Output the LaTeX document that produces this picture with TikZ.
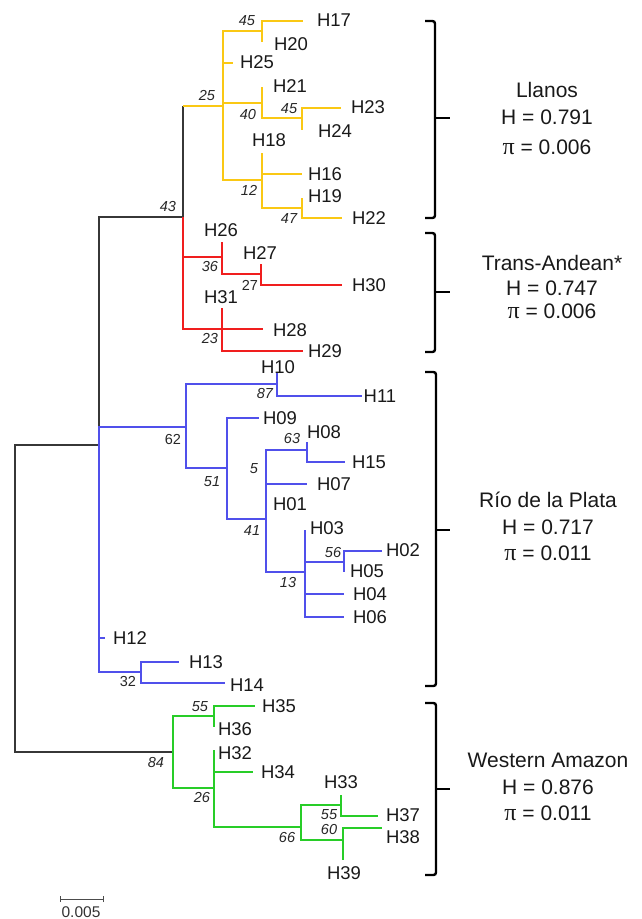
\documentclass[tikz,border=0pt]{standalone}
\usepackage{fontspec}
\setmainfont{Liberation Sans}
\newfontfamily\grk{Liberation Serif}
\definecolor{cYel}{RGB}{250,200,20}
\definecolor{cRed}{RGB}{240,30,30}
\definecolor{cBlu}{RGB}{80,80,235}
\definecolor{cGrn}{RGB}{40,205,40}
\definecolor{cBlk}{RGB}{55,55,55}
\newcommand{\mypi}{{\grk\fontsize{24}{24}\selectfont π}}
\begin{document}
\begin{tikzpicture}[x=1pt,y=-1pt,
  blk/.style={draw=cBlk,line width=1.3pt},
  yel/.style={draw=cYel,line width=1.1pt},
  rd/.style={draw=cRed,line width=1.1pt},
  blu/.style={draw=cBlu,line width=1.1pt},
  grn/.style={draw=cGrn,line width=1.1pt},
  lab/.style={font=\fontsize{18.5}{20}\selectfont,inner sep=0pt,text=black!90},
  bs/.style={font=\fontsize{14.5}{16}\selectfont\itshape,inner sep=0pt,text=black!85},
  bsu/.style={font=\fontsize{14.5}{16}\selectfont,inner sep=0pt,text=black!85},
  clade/.style={font=\fontsize{21}{24}\selectfont,inner sep=0pt,text=black!90},
  brk/.style={draw=black,line width=2.4pt,rounded corners=2.5pt}
]
\useasboundingbox (0,0) rectangle (641,919);

% ---------- coordinates ----------
\coordinate (R) at (15,600);
\coordinate (A) at (99,445);
\coordinate (N43) at (183,217);
% yellow
\coordinate (Y25) at (223,106);
\coordinate (Y45a) at (262,31);
\coordinate (tH17) at (303,21);
\coordinate (tH20) at (262,42);
\coordinate (tH25) at (233,63);
\coordinate (Y40) at (262,103);
\coordinate (tH21) at (262,87);
\coordinate (Y45b) at (302,118);
\coordinate (tH23) at (341,108);
\coordinate (tH24) at (302,130);
\coordinate (Y12) at (262,180);
\coordinate (tH18) at (262,153);
\coordinate (tH16) at (302,174);
\coordinate (Y47) at (302,208);
\coordinate (tH19) at (302,198);
\coordinate (tH22) at (342,218);
% red
\coordinate (R36) at (222,257);
\coordinate (tH26) at (222,242);
\coordinate (R27) at (261,274);
\coordinate (tH27) at (261,264);
\coordinate (tH30) at (342,285);
\coordinate (R23) at (222,329);
\coordinate (tH31) at (222,308);
\coordinate (tH28) at (263,329);
\coordinate (tH29) at (303,351);
% blue
\coordinate (B62) at (186,427);
\coordinate (B87) at (277,384);
\coordinate (tH10) at (277,373);
\coordinate (tH11) at (362,396);
\coordinate (B51) at (227,468);
\coordinate (tH09) at (259,418);
\coordinate (B41) at (266,519);
\coordinate (B63) at (307,450);
\coordinate (tH08) at (307,442);
\coordinate (tH15) at (345,462);
\coordinate (tH07) at (307,484);
\coordinate (B13) at (305,572);
\coordinate (tH03) at (305,530);
\coordinate (B56) at (344,562);
\coordinate (tH02) at (382,551);
\coordinate (tH05) at (344,572);
\coordinate (tH04) at (344,594);
\coordinate (tH06) at (344,617);
\coordinate (tH12) at (105,638);
\coordinate (B32) at (141,672);
\coordinate (tH13) at (179,662);
\coordinate (tH14) at (225,683);
% green
\coordinate (G84) at (173,752);
\coordinate (G55a) at (214,716);
\coordinate (tH35) at (255,706);
\coordinate (tH36) at (214,727);
\coordinate (G26) at (214,788);
\coordinate (tH32) at (214,750);
\coordinate (tH34) at (253,772);
\coordinate (G66) at (301,827);
\coordinate (G55b) at (341,805);
\coordinate (tH33) at (341,795);
\coordinate (tH37) at (378,816);
\coordinate (G60) at (343,840);
\coordinate (tH38) at (382,828);
\coordinate (tH39) at (343,860);

% ---------- black backbone ----------
\draw[blk] (R) |- (A);
\draw[blk] (R) |- (G84);
\draw[blk] (A) |- (N43);
\draw[blk] (N43) -- (N43 |- Y25);

% ---------- yellow ----------
\draw[yel] (N43 |- Y25) -- (Y25);
\draw[yel] (Y25) |- (Y45a);
\draw[yel] (Y25) |- (tH25);
\draw[yel] (Y25) |- (Y40);
\draw[yel] (Y25) |- (Y12);
\draw[yel] (Y45a) |- (tH17);
\draw[yel] (Y45a) |- (tH20);
\draw[yel] (Y40) |- (tH21);
\draw[yel] (Y40) |- (Y45b);
\draw[yel] (Y45b) |- (tH23);
\draw[yel] (Y45b) |- (tH24);
\draw[yel] (Y12) |- (tH18);
\draw[yel] (Y12) |- (tH16);
\draw[yel] (Y12) |- (Y47);
\draw[yel] (Y47) |- (tH19);
\draw[yel] (Y47) |- (tH22);

% ---------- red ----------
\draw[rd] (N43) |- (R36);
\draw[rd] (N43) |- (R23);
\draw[rd] (R36) |- (tH26);
\draw[rd] (R36) |- (R27);
\draw[rd] (R27) |- (tH27);
\draw[rd] (R27) |- (tH30);
\draw[rd] (R23) |- (tH31);
\draw[rd] (R23) |- (tH28);
\draw[rd] (R23) |- (tH29);

% ---------- blue ----------
\draw[blu] (A) |- (B62);
\draw[blu] (A) |- (tH12);
\draw[blu] (A) |- (B32);
\draw[blu] (B62) |- (B87);
\draw[blu] (B62) |- (B51);
\draw[blu] (B87) |- (tH10);
\draw[blu] (B87) |- (tH11);
\draw[blu] (B51) |- (tH09);
\draw[blu] (B51) |- (B41);
\draw[blu] (B41) |- (B63);
\draw[blu] (B41) |- (tH07);
\draw[blu] (B41) |- (B13);
\draw[blu] (B63) |- (tH08);
\draw[blu] (B63) |- (tH15);
\draw[blu] (B13) |- (tH03);
\draw[blu] (B13) |- (B56);
\draw[blu] (B13) |- (tH04);
\draw[blu] (B13) |- (tH06);
\draw[blu] (B56) |- (tH02);
\draw[blu] (B56) |- (tH05);
\draw[blu] (B32) |- (tH13);
\draw[blu] (B32) |- (tH14);

% ---------- green ----------
\draw[grn] (G84) |- (G55a);
\draw[grn] (G84) |- (G26);
\draw[grn] (G55a) |- (tH35);
\draw[grn] (G55a) |- (tH36);
\draw[grn] (G26) |- (tH32);
\draw[grn] (G26) |- (tH34);
\draw[grn] (G26) |- (G66);
\draw[grn] (G66) |- (G55b);
\draw[grn] (G66) |- (G60);
\draw[grn] (G55b) |- (tH33);
\draw[grn] (G55b) |- (tH37);
\draw[grn] (G60) |- (tH38);
\draw[grn] (G60) |- (tH39);

% ---------- leaf labels ----------
\node[lab] (lH17) at (334,20) {H17};
\node[lab] (lH20) at (291,44) {H20};
\node[lab] (lH25) at (257,62) {H25};
\node[lab] (lH21) at (290,86) {H21};
\node[lab] (lH23) at (368,107) {H23};
\node[lab] (lH24) at (335,131) {H24};
\node[lab] (lH18) at (269,140) {H18};
\node[lab] (lH16) at (325,174) {H16};
\node[lab] (lH19) at (325,196) {H19};
\node[lab] (lH22) at (369,218) {H22};
\node[lab] (lH26) at (221,230) {H26};
\node[lab] (lH27) at (260,253) {H27};
\node[lab] (lH30) at (369,285) {H30};
\node[lab] (lH31) at (221,297) {H31};
\node[lab] (lH28) at (290,330) {H28};
\node[lab] (lH29) at (325,351) {H29};
\node[lab] (lH10) at (278,367) {H10};
\node[lab] (lH11) at (380,396) {H11};
\node[lab] (lH09) at (280,418) {H09};
\node[lab] (lH08) at (324,432) {H08};
\node[lab] (lH15) at (369,462) {H15};
\node[lab] (lH07) at (334,484) {H07};
\node[lab] (lH01) at (290,504) {H01};
\node[lab] (lH03) at (327,528) {H03};
\node[lab] (lH02) at (403,550) {H02};
\node[lab] (lH05) at (367,571) {H05};
\node[lab] (lH04) at (370,594) {H04};
\node[lab] (lH06) at (370,617) {H06};
\node[lab] (lH12) at (130,638) {H12};
\node[lab] (lH13) at (206,662) {H13};
\node[lab] (lH14) at (247,685) {H14};
\node[lab] (lH35) at (279,706) {H35};
\node[lab] (lH36) at (235,729) {H36};
\node[lab] (lH32) at (235,753) {H32};
\node[lab] (lH34) at (278,772) {H34};
\node[lab] (lH33) at (341,782) {H33};
\node[lab] (lH37) at (403,815) {H37};
\node[lab] (lH38) at (403,837) {H38};
\node[lab] (lH39) at (344,873) {H39};

% ---------- bootstrap values ----------
\node[bs] (b45a) at (247,21) {45};
\node[bs] (b25) at (207,96) {25};
\node[bs] (b40) at (248,115) {40};
\node[bs] (b45b) at (289,109) {45};
\node[bs] (b12) at (249,190) {12};
\node[bs] (b47) at (289,219) {47};
\node[bs] (b43) at (168,207) {43};
\node[bs] (b36) at (210,267) {36};
\node[bsu] (b27) at (250,285) {27};
\node[bs] (b23) at (210,339) {23};
\node[bs] (b87) at (265,394) {87};
\node[bsu] (b62) at (173,440) {62};
\node[bs] (b63) at (292,439) {63};
\node[bs] (b5) at (254,469) {5};
\node[bs] (b51) at (212,482) {51};
\node[bs] (b41) at (252,531) {41};
\node[bs] (b56) at (333,553) {56};
\node[bs] (b13) at (288,583) {13};
\node[bsu] (b32) at (128,681) {32};
\node[bs] (b84) at (156,763) {84};
\node[bs] (b55a) at (200,707) {55};
\node[bs] (b26) at (202,797) {26};
\node[bs] (b66) at (287,837) {66};
\node[bs] (b55b) at (329,815) {55};
\node[bs] (b60) at (329,829) {60};

% ---------- brackets ----------
\draw[brk] (425,21) -- (435,21) -- (435,218) -- (425,218);
\draw[brk] (435,118) -- (450,118);
\draw[brk] (425,233) -- (435,233) -- (435,352) -- (425,352);
\draw[brk] (435,292) -- (450,292);
\draw[brk] (425,372) -- (436,372) -- (436,686) -- (425,686);
\draw[brk] (436,530) -- (450,530);
\draw[brk] (425,703) -- (436,703) -- (436,875) -- (425,875);
\draw[brk] (436,789) -- (450,789);

% ---------- clade texts ----------
\node[clade] (c1a) at (547,90) {Llanos};
\node[clade] (c1b) at (547,117) {H = 0.791};
\node[clade] (c1c) at (547,147) {\mypi{} = 0.006};
\node[clade] (c2a) at (552,263) {Trans-Andean*};
\node[clade] (c2b) at (552,288) {H = 0.747};
\node[clade] (c2c) at (552,311) {\mypi{} = 0.006};
\node[clade] (c3a) at (548,500) {Río de la Plata};
\node[clade] (c3b) at (548,527) {H = 0.717};
\node[clade] (c3c) at (548,553) {\mypi{} = 0.011};
\node[clade] (c4a) at (548,760) {Western Amazon};
\node[clade] (c4b) at (548,787) {H = 0.876};
\node[clade] (c4c) at (548,813) {\mypi{} = 0.011};

% ---------- scale bar ----------
\coordinate (sA) at (60,899);
\coordinate (sB) at (103,899);
\draw[draw=black!70,line width=1pt] (sA) -- (sB);
\draw[draw=black!70,line width=1pt] ([yshift=-3pt]sA) -- ([yshift=3pt]sA);
\draw[draw=black!70,line width=1pt] ([yshift=-3pt]sB) -- ([yshift=3pt]sB);
\node[font=\fontsize{15.5}{17}\selectfont,inner sep=0pt,text=black!80] (sl) at (81,912) {0.005};
\end{tikzpicture}
\end{document}
